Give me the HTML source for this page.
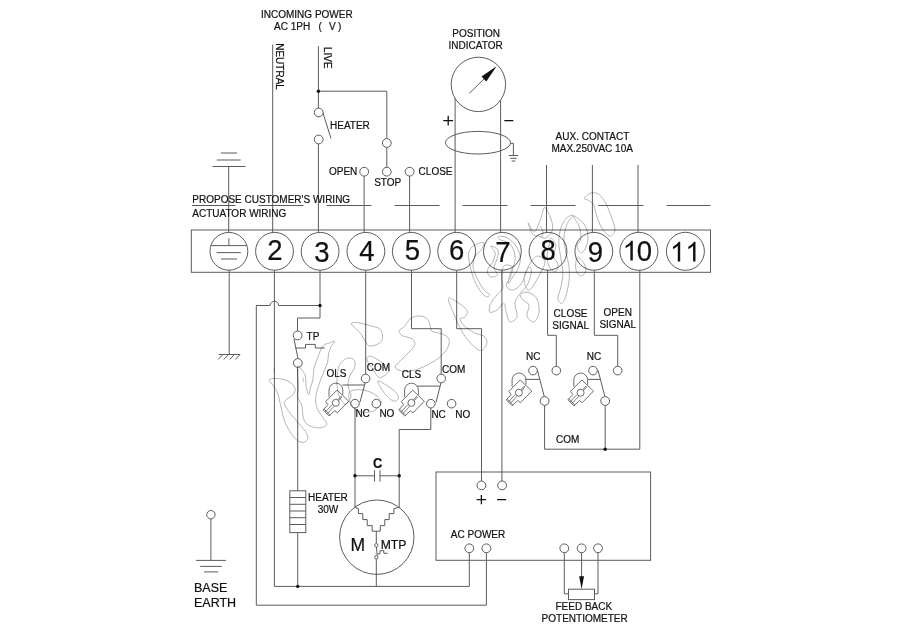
<!DOCTYPE html>
<html>
<head>
<meta charset="utf-8">
<title>Actuator Wiring Diagram</title>
<style>
html,body{margin:0;padding:0;background:#fff;}
body{width:900px;height:636px;overflow:hidden;font-family:"Liberation Sans",sans-serif;}
svg{display:block;will-change:transform;}
svg text{font-family:"Liberation Sans",sans-serif;fill:#111;stroke:#111;stroke-width:0.2px;}
.w{fill:none;stroke:#5c5c5c;stroke-width:1;}
.c{fill:#fff;stroke:#5c5c5c;stroke-width:1;}
.d{fill:#111;stroke:none;}
.t{font-size:10px;}
.n{font-size:27.5px;text-anchor:middle;}
</style>
</head>
<body>
<svg width="900" height="636" viewBox="0 0 900 636">
<rect x="0" y="0" width="900" height="636" fill="#fff"/>

<!-- WATERMARK -->


<!-- dashed customer / actuator boundary -->
<g class="w">
<path d="M192,205.5H235.5M258.5,205.5H303.5M326.5,205.5H371.5M394.5,205.5H439.5M462.5,205.5H507.5M530.5,205.5H575.5M598.5,205.5H643.5M666.5,205.5H710.5"/>
</g>

<!-- terminal strip -->
<g class="w">
<rect x="191.3" y="230" width="519.2" height="42.3"/>
<circle cx="228.9" cy="251.3" r="18.9"/>
<circle cx="274.5" cy="251.3" r="18.9"/>
<circle cx="320.1" cy="251.3" r="18.9"/>
<circle cx="365.9" cy="251.3" r="18.9"/>
<circle cx="411.3" cy="251.3" r="18.9"/>
<circle cx="456.7" cy="251.3" r="18.9"/>
<circle cx="502.4" cy="251.3" r="18.9"/>
<circle cx="548" cy="251.3" r="18.9"/>
<circle cx="593.8" cy="251.3" r="18.9"/>
<circle cx="638.9" cy="251.3" r="19"/>
<circle cx="685.4" cy="251.3" r="19"/>
<!-- earth inside terminal 1 -->
<path d="M228.9,238.4V245.6M210.9,245.6H246.9M216.6,252.6H240.8M221,259H237"/>
</g>
<g class="n">
<text transform="translate(275,259.7) scale(1,1.045)">2</text>
<text transform="translate(322,261.5) scale(1,1.045)">3</text>
<text transform="translate(366.9,261) scale(1,1.045)">4</text>
<text transform="translate(412.5,259.8) scale(1,1.045)">5</text>
<text transform="translate(456.6,260.4) scale(1,1.045)">6</text>
<text transform="translate(502.9,261.7) scale(1,1.045)">7</text>
<text transform="translate(548.1,260.2) scale(1,1.045)">8</text>
<text transform="translate(595.3,262) scale(1,1.045)">9</text>
<path transform="translate(622.55,260.6) scale(0.013428,-0.013428)" d="M763 0H583V1147Q518 1085 412.5 1023Q307 961 223 930V1104Q374 1175 487 1276Q600 1377 647 1472H763Z" fill="#111"/>
<text transform="translate(644.5,260.6) scale(1,1.045)">0</text>
<path transform="translate(669.95,261.5) scale(0.013428,-0.013428)" d="M763 0H583V1147Q518 1085 412.5 1023Q307 961 223 930V1104Q374 1175 487 1276Q600 1377 647 1472H763Z" fill="#111"/>
<path transform="translate(685.25,261.5) scale(0.013428,-0.013428)" d="M763 0H583V1147Q518 1085 412.5 1023Q307 961 223 930V1104Q374 1175 487 1276Q600 1377 647 1472H763Z" fill="#111"/>
</g>

<!-- TOP: customer wiring -->
<g class="w">
<!-- earth symbol top -->
<path d="M221,153H237M216.7,160H240.7M212.5,166.5H245.5M228.7,166.5V232.4"/>
<!-- neutral -->
<path d="M272.7,44.5V232.4"/>
<!-- live -->
<path d="M318.4,46V108"/>
<path d="M318.4,91.2H386.8V138.5"/>
<path d="M322.5,111.5L331,138.5"/>
<path d="M318.4,144V232.4"/>
<path d="M386.8,147.5V167.3"/>
<!-- open / close -->
<path d="M364.1,176.2V232.4"/>
<path d="M409.6,176.2V232.4"/>
<!-- position indicator -->
<path d="M455.1,98V232.4M500.6,98V232.4"/>
<ellipse cx="478" cy="142.7" rx="32.5" ry="11.3"/>
<path d="M510.5,143.3H513.4V155.5M508.7,155.5H518.2M510.2,158.3H516.8M511.6,161H515.4"/>
<!-- aux contact -->
<path d="M546.5,165V232.4M592.4,165V232.4M638,165V232.4"/>
</g>
<circle class="d" cx="318.4" cy="91.2" r="1.7"/>
<g class="c">
<circle cx="318.7" cy="112.5" r="4.4"/>
<circle cx="318.7" cy="139.5" r="4.4"/>
<circle cx="386.8" cy="143" r="4.4"/>
<circle cx="386.8" cy="171.7" r="4.4"/>
<circle cx="364.2" cy="171.7" r="4.4"/>
<circle cx="409.6" cy="171.7" r="4.4"/>
<circle cx="478.4" cy="84.4" r="27.2"/>
</g>
<path class="w" d="M469.3,93.3L486,77"/>
<path class="d" d="M496.6,66.3L481.5,76.6L486.3,81.4Z"/>
<path d="M443.3,120.7H453.1M448.2,115.8V125.6M504.3,120.7H513.3" fill="none" stroke="#111" stroke-width="1.3"/>

<g class="t">
<text x="261" y="17.6">INCOMING POWER</text>
<text x="274" y="30.2">AC 1PH</text>
<text x="318.6" y="30">(</text>
<text x="329" y="30.2">V</text>
<text x="338" y="30">)</text>
<text transform="translate(276.4,43.2) rotate(90)">NEUTRAL</text>
<text transform="translate(324,47) rotate(90)">LIVE</text>
<text x="330" y="128.8">HEATER</text>
<text x="329" y="174.6">OPEN</text>
<text x="374.2" y="186.3">STOP</text>
<text x="418.6" y="175">CLOSE</text>
<text x="192.3" y="202.5">PROPOSE CUSTOMER'S WIRING</text>
<text x="192.3" y="217">ACTUATOR WIRING</text>
<text x="452.3" y="37.1">POSITION</text>
<text x="448.6" y="49.1">INDICATOR</text>
<text x="555.6" y="140">AUX. CONTACT</text>
<text x="551.4" y="151.8">MAX.250VAC 10A</text>
</g>

<!-- BOTTOM: actuator wiring -->
<g class="w">
<!-- earth chassis -->
<path d="M229.2,270.2V354.5M218.7,354.5H240M222.8,354.5L218.1,359.5M228.6,354.5L223.9,359.5M234.4,354.5L229.7,359.5M240,354.5L235.3,359.5"/>
<!-- wire 2 neutral -->
<path d="M274.4,270.2V586.4H469.3V552.7"/>
<!-- wire 3 live -->
<path d="M320,270.2V318H297.5V331"/>
<path d="M320,305.5H278.7A4.3,4.3 0 0 0 270.1,305.5H256.3V605.2H486.4V552.7"/>
<!-- TP switch -->
<path d="M294,339L298,358.6"/>
<path d="M295.5,348H305.5V344.4H315.3V348H324.8"/>
<path d="M274.4,367.3V373.3"/>
<path d="M297.7,367.4V490.8M297.7,532.6V586.4"/>
<rect x="289.8" y="490.8" width="16" height="41.8"/>
<path d="M289.8,497.5H305.8M289.8,504.3H305.8M289.8,511H305.8M289.8,517.7H305.8M289.8,524.5H305.8"/>
<!-- wire 4 -->
<path d="M365.7,270.2V374.2"/>
<!-- OLS -->
<path d="M342.4,385H364.6M365.2,382.8L360,402"/>
<path d="M355,407.9V508M355,475.8H374.5M380,475.8H399.2M374.5,470.2V481.6M380,470.2V481.6"/>
<!-- wire 5 -->
<path d="M411.5,270.2V328.7H441.2V374.2"/>
<!-- CLS -->
<path d="M417.3,386.1H440.3M441,382.8L436,402.3"/>
<path d="M430.8,408V429.5H399.2V508"/>
<!-- wire 6, 7 -->
<path d="M456.7,270.2V328.7H481.5V481M501.9,270.2V481"/>
<!-- wire 8 -->
<path d="M547.6,270.2V335.3H556.3V366.3"/>
<!-- wire 9 -->
<path d="M594.3,270.2V335.3H617.7V366.3"/>
<!-- wire 10 and COM -->
<path d="M639.8,270.2V449.2H544.6V405.4M605.2,405.4V449.2"/>
<!-- aux switches -->
<path d="M525.7,379.4H539.6M537.4,370.2L544.3,396.6"/>
<path d="M587.8,379.4H600.2M598,370.2L604.9,396.6"/>
<!-- motor -->
<circle cx="376.8" cy="537.2" r="37.2"/>
<path d="M354.8,507.3L358.4,508.6V513.6H362.8V519.6H367.2V525.6H372.2V531.2H380.3V525.6H384.8V519.6H389.2V513.6H393.9V508.6L399,507.3"/>
<path d="M376.3,531.2V543.6M376.4,547L377.2,555.6M376.3,559V586.4"/>
<path d="M377.2,553.9H380V550.7H383.8V553.3H387.6"/>
<!-- control box -->
<rect x="436" y="472" width="214.6" height="88.3"/>
<!-- potentiometer -->
<path d="M564.3,552.7V593.8H568.5M598,552.7V593.8H594.5M581.6,552.7V580"/>
<rect x="568.5" y="589.2" width="26" height="10.4"/>
<!-- base earth -->
<path d="M210.9,519V560.4M196,560.4H226M200.2,566.4H221.9M204,571.9H218.1"/>
</g>
<path class="d" d="M581.6,589.2L579.2,576.3H584Z"/>
<g class="d">
<circle cx="320" cy="305.5" r="1.7"/>
<circle cx="355" cy="475.8" r="1.7"/>
<circle cx="399.2" cy="475.8" r="1.7"/>
<circle cx="605.2" cy="449.2" r="1.7"/>
<circle cx="297.7" cy="586.4" r="1.7"/>
</g>
<g class="c">
<circle cx="297.6" cy="335.4" r="4.4"/>
<circle cx="297.8" cy="363" r="4.4"/>
<circle cx="365.6" cy="378.5" r="4.3"/>
<circle cx="355" cy="403.6" r="4.3"/>
<circle cx="376.3" cy="403.6" r="4.3"/>
<circle cx="441.2" cy="378.5" r="4.3"/>
<circle cx="430.8" cy="403.7" r="4.3"/>
<circle cx="451.6" cy="403.7" r="4.3"/>
<circle cx="533" cy="370.6" r="4.3"/>
<circle cx="556.3" cy="370.6" r="4.3"/>
<circle cx="544.6" cy="401" r="4.4"/>
<circle cx="593" cy="370.6" r="4.3"/>
<circle cx="617.7" cy="370.6" r="4.3"/>
<circle cx="605.2" cy="401" r="4.4"/>
<circle cx="481.4" cy="485.4" r="4.4"/>
<circle cx="502.1" cy="485.4" r="4.4"/>
<circle cx="469.3" cy="548.3" r="4.4"/>
<circle cx="486.4" cy="548.3" r="4.4"/>
<circle cx="564.3" cy="548.3" r="4.4"/>
<circle cx="581.6" cy="548.3" r="4.4"/>
<circle cx="598" cy="548.3" r="4.4"/>
<circle cx="210.9" cy="514.7" r="4.2"/>
<circle cx="376.3" cy="545.3" r="1.7"/>
<circle cx="376.3" cy="557.3" r="1.7"/>
</g>
<path d="M476.7,499.6H486.1M481.4,494.9V504.3M497,499.6H506.2" fill="none" stroke="#111" stroke-width="1.3"/>

<!-- cam icons -->
<defs>
<g id="cam">
<path d="M-8.2,-4.6V-11.4A6.9,6.9 0 0 1 5.6,-11.4V-6.6" fill="none"/>
<path d="M-0.1,-11.3L11.5,-0.2L0.2,11.4L-2.6,9.2L-8,14.6L-14.1,8.5L-9.2,3.2L-11.5,0.1Z" fill="#fff" stroke-linejoin="round"/>
<path d="M-3.1,4.9L-10.2,12.4M-4.9,3.1L-12,10.6M-7,13.7L-13.2,7.6" fill="none" stroke-width="0.8"/>
<path d="M1.5,-0.7L4.6,-4.3M0.7,-1.5L3.8,-5.1M3.8,-5.1L4.6,-4.3" fill="none" stroke-width="0.8"/>
<circle cx="-1.4" cy="1.4" r="3.5" fill="#fff"/>
</g>
</defs>
<g stroke="#5c5c5c" stroke-width="0.9">
<use href="#cam" x="337.2" y="401.4"/>
<use href="#cam" x="412.8" y="401.5"/>
<use href="#cam" x="520.3" y="391.3"/>
<use href="#cam" x="582" y="391.3"/>
</g>

<g class="t">
<text x="306.6" y="339.5">TP</text>
<text x="326.5" y="377">OLS</text>
<text x="366.8" y="370.8">COM</text>
<text x="355.4" y="417.4">NC</text>
<text x="379.4" y="417">NO</text>
<text x="401.8" y="377.5">CLS</text>
<text x="442" y="372.5">COM</text>
<text x="431.4" y="418.2">NC</text>
<text x="455.2" y="418.2">NO</text>
<text x="553.6" y="317">CLOSE</text>
<text x="552.3" y="328.7">SIGNAL</text>
<text x="603.6" y="316.2">OPEN</text>
<text x="599.4" y="328">SIGNAL</text>
<text x="526" y="359.5">NC</text>
<text x="586.8" y="359.5">NC</text>
<text x="556" y="443">COM</text>
<text x="308" y="501.1">HEATER</text>
<text x="317.7" y="513.1">30W</text>
<text x="450.8" y="537.6">AC POWER</text>
<text x="555.5" y="609.8">FEED BACK</text>
<text x="541.6" y="621.8">POTENTIOMETER</text>
</g>
<text transform="translate(373,467.8) scale(0.98,1.17)" style="font-size:13px;font-weight:bold;">C</text>
<text x="350.4" y="550.7" style="font-size:17.5px;">M</text>
<text x="380.7" y="548.5" style="font-size:12.2px;">MTP</text>
<text x="194" y="591.5" style="font-size:12.5px;">BASE</text>
<text x="194" y="606.6" style="font-size:12.5px;">EARTH</text>
<g id="wm" style="mix-blend-mode:multiply" fill="none" stroke="#b4b4b4" stroke-width="1">
<path d="M268.9,380.1C269.5,379.1 272.6,378.2 275.8,378.4C279.0,378.5 284.8,379.4 288.0,381.0C291.2,382.6 294.0,385.6 294.9,387.9C295.8,390.2 294.8,392.5 293.1,394.8C291.4,397.1 285.4,399.1 284.5,401.7C283.6,404.3 286.0,407.2 288.0,410.4C290.0,413.6 293.7,417.3 296.6,420.8C299.5,424.3 303.4,428.3 305.3,431.2C307.2,434.1 308.1,436.2 307.8,438.1C307.5,440.0 305.4,442.1 303.5,442.4C301.6,442.7 298.9,441.7 296.6,439.8C294.3,437.9 291.7,434.4 289.7,431.2C287.7,428.0 285.9,424.9 284.5,420.8C283.1,416.8 282.1,411.5 281.0,406.9C279.9,402.3 279.0,396.9 277.6,393.1C276.2,389.4 273.8,386.6 272.4,384.4C270.9,382.2 268.3,381.1 268.9,380.1Z"/>
<path d="M334.7,341.2C334.4,340.6 331.5,342.0 329.5,342.9C327.5,343.8 324.6,343.8 322.6,346.4C320.6,349.0 318.8,354.8 317.4,358.5C315.9,362.2 314.6,365.4 313.9,368.9C313.2,372.4 313.6,376.1 313.0,379.3C312.4,382.5 311.1,385.3 310.4,387.9C309.7,390.5 309.4,395.1 308.7,394.8C308.0,394.5 306.7,389.4 306.1,386.2C305.5,383.0 306.2,378.7 305.3,375.8C304.4,372.9 302.2,370.3 300.9,368.9C299.6,367.4 297.9,363.9 297.5,367.1C297.1,370.3 298.3,383.0 298.3,387.9C298.3,392.8 296.9,393.7 297.5,396.6C298.1,399.5 300.9,402.3 301.8,405.2C302.7,408.1 302.1,411.0 302.7,413.9C303.3,416.8 303.7,420.4 305.3,422.5C306.9,424.6 309.6,425.9 312.2,426.8C314.8,427.7 318.4,428.1 320.8,427.7C323.2,427.3 326.6,425.9 326.9,424.2C327.2,422.5 324.2,419.9 322.6,417.3C321.0,414.7 318.6,411.6 317.4,408.7C316.2,405.8 315.6,403.2 315.6,400.0C315.6,396.8 316.5,393.1 317.4,389.6C318.3,386.2 319.6,382.5 320.8,379.3C322.0,376.1 323.2,373.5 324.3,370.6C325.4,367.7 327.0,364.8 327.7,361.9C328.4,359.0 328.0,355.9 328.6,353.3C329.2,350.7 330.2,348.4 331.2,346.4C332.2,344.4 335.0,341.8 334.7,341.2Z"/>
<path d="M303.0,377.5C303.1,378.2 303.4,381.1 303.5,381.8"/>
<path d="M341.8,361.9C343.4,360.4 346.0,358.3 348.1,358.0C350.2,357.7 353.3,358.6 354.4,360.3C355.4,362.0 355.2,365.6 354.4,368.2C353.6,370.8 350.8,373.1 349.7,376.1C348.6,379.1 347.9,382.7 348.1,386.0C348.3,389.3 351.4,393.0 351.0,396.0C350.6,399.0 347.8,403.7 346.0,404.0C344.2,404.3 341.5,401.0 340.0,398.0C338.5,395.0 337.5,390.0 337.1,386.0C336.7,382.0 337.2,377.2 337.5,374.0C337.8,370.8 338.0,369.0 338.7,367.0C339.4,365.0 340.2,363.4 341.8,361.9Z"/>
<path d="M349.7,392.0C351.5,389.9 356.8,389.4 360.7,389.7C364.6,390.0 369.9,391.6 373.3,393.6C376.7,395.6 380.6,398.9 381.1,401.5C381.6,404.1 378.8,407.5 376.4,409.3C374.0,411.1 370.4,412.4 367.0,412.5C363.6,412.6 358.8,411.8 356.0,410.0C353.2,408.2 351.1,405.0 350.0,402.0C348.9,399.0 347.9,394.1 349.7,392.0Z"/>
<path d="M351.2,323.4C351.7,322.6 354.4,322.2 357.5,322.6C360.6,323.0 366.4,324.6 370.1,325.7C373.8,326.8 377.5,327.1 379.6,328.9C381.7,330.7 382.7,334.3 382.7,336.7C382.7,339.1 381.7,341.4 379.6,343.0C377.5,344.6 372.5,346.4 370.1,346.2C367.7,345.9 367.0,343.6 365.4,341.5C363.8,339.4 362.5,336.0 360.7,333.6C358.9,331.2 356.0,329.0 354.4,327.3C352.8,325.6 350.7,324.2 351.2,323.4Z"/>
<path d="M368.5,356.4C369.6,355.9 370.4,355.8 373.3,357.2C376.2,358.6 383.2,362.8 385.8,365.1C388.4,367.5 390.0,369.2 389.0,371.3C388.0,373.4 382.2,377.9 379.6,377.6C377.0,377.4 375.4,372.7 373.3,369.8C371.2,366.9 367.8,362.5 367.0,360.3C366.2,358.1 367.4,356.9 368.5,356.4Z"/>
<path d="M378.0,380.8C378.8,380.5 381.4,382.1 384.3,383.9C387.2,385.7 393.0,389.4 395.3,391.8C397.6,394.2 398.7,396.5 398.4,398.1C398.1,399.7 395.8,401.7 393.7,401.2C391.6,400.7 388.2,397.5 385.8,394.9C383.4,392.3 380.8,387.9 379.5,385.5C378.2,383.1 377.2,381.1 378.0,380.8Z"/>
<path d="M398.9,331.1C399.2,329.5 402.6,328.4 404.5,326.4C406.4,324.4 408.0,320.6 410.2,318.9C412.4,317.2 415.0,316.2 417.7,316.0C420.4,315.8 424.1,316.5 426.2,317.9C428.2,319.3 429.1,322.3 430.0,324.5C430.9,326.7 429.8,329.5 431.9,331.1C433.9,332.7 439.5,332.7 442.3,334.0C445.1,335.3 448.0,336.5 448.9,338.7C449.8,340.9 449.3,344.2 447.9,347.2C446.5,350.2 443.8,353.6 440.4,356.6C436.9,359.6 431.9,362.7 427.2,365.1C422.5,367.5 416.5,369.9 412.1,370.8C407.7,371.8 403.6,371.4 400.8,370.8C398.0,370.2 395.1,368.7 395.1,367.0C395.1,365.3 398.3,363.1 400.8,360.4C403.3,357.7 407.9,353.6 410.2,350.9C412.5,348.2 414.6,346.3 414.9,344.3C415.2,342.3 414.2,340.1 412.1,338.7C410.1,337.3 404.8,337.1 402.6,335.8C400.4,334.5 398.6,332.7 398.9,331.1Z"/>
<path d="M448.4,299.9C448.1,297.4 449.6,297.8 452.4,299.1C455.1,300.4 462.4,305.6 464.9,307.8C467.4,310.0 467.3,310.9 467.3,312.5C467.3,314.1 466.1,316.1 464.9,317.2C463.7,318.2 460.4,317.5 460.2,318.8C459.9,320.1 461.0,322.8 463.4,325.1C465.8,327.5 471.0,331.1 474.4,332.9C477.8,334.7 481.7,334.5 483.8,336.1C485.9,337.7 487.0,340.3 487.0,342.4C487.0,344.5 485.1,347.4 483.8,348.7C482.5,350.0 481.2,351.0 479.1,350.2C477.0,349.4 473.6,346.2 471.2,343.9C468.8,341.5 467.0,339.2 464.9,336.1C462.8,333.0 460.5,328.8 458.7,325.1C456.9,321.4 455.6,318.2 453.9,314.0C452.2,309.8 448.6,302.4 448.4,299.9Z"/>
<path d="M468.6,257.1C468.2,252.3 469.3,250.5 470.8,248.3C472.3,246.1 475.2,244.8 477.4,243.9C479.6,243.0 483.6,241.7 484.1,242.8C484.7,243.9 482.2,248.3 480.7,250.5C479.2,252.7 476.5,253.4 475.2,256.0C473.9,258.6 472.8,262.4 473.0,265.9C473.2,269.4 474.4,272.9 476.3,276.9C478.2,280.9 481.9,287.2 484.1,290.1C486.3,293.0 489.2,293.4 489.6,294.5C490.0,295.6 488.0,297.4 486.3,296.7C484.6,296.0 481.8,293.4 479.6,290.1C477.4,286.8 474.8,282.4 473.0,276.9C471.2,271.4 469.0,261.9 468.6,257.1Z"/>
<path d="M499.5,236.2C501.0,236.0 505.6,236.8 508.3,238.4C511.1,240.1 514.0,243.0 516.0,246.1C518.0,249.2 520.0,253.4 520.4,257.1C520.8,260.8 519.5,264.8 518.2,268.1C516.9,271.4 514.4,274.3 512.7,276.9C511.1,279.5 508.7,284.2 508.3,283.5C507.9,282.8 509.4,276.2 510.5,272.5C511.6,268.8 514.4,265.2 514.9,261.5C515.4,257.8 514.9,253.6 513.8,250.5C512.7,247.4 510.7,244.6 508.3,242.8C505.9,241.0 501.0,240.6 499.5,239.5C498.0,238.4 498.0,236.4 499.5,236.2Z"/>
<path d="M490.7,246.1C490.2,246.5 494.7,250.1 495.1,252.7C495.5,255.3 494.2,258.6 492.9,261.5C491.6,264.4 487.8,267.7 487.4,270.3C487.0,272.9 489.0,276.2 490.7,276.9C492.4,277.6 496.8,276.2 497.3,274.7C497.9,273.2 494.1,270.6 494.0,268.0C493.9,265.4 496.3,262.0 497.0,259.0C497.7,256.0 499.1,252.2 498.0,250.0C496.9,247.8 491.2,245.7 490.7,246.1Z"/>
<path d="M503.9,265.9C505.7,264.2 511.6,265.2 512.7,267.0C513.8,268.8 511.6,273.8 510.5,276.9C509.4,280.0 505.7,283.5 506.1,285.7C506.5,287.9 510.1,290.5 512.7,290.1C515.3,289.7 518.9,287.2 521.5,283.5C524.1,279.8 526.5,270.3 528.1,268.1C529.8,265.9 531.4,267.7 531.4,270.3C531.4,272.9 530.1,279.5 528.1,283.5C526.1,287.5 521.5,291.2 519.3,294.5C517.1,297.8 515.3,299.6 514.9,303.3C514.5,307.0 517.9,313.4 517.1,316.5C516.3,319.6 511.8,322.7 510.0,322.0C508.2,321.3 507.1,315.2 506.1,312.1C505.1,309.0 505.4,303.7 503.9,303.3C502.4,302.9 499.7,308.4 497.3,309.9C494.9,311.4 490.7,313.2 489.6,312.1C488.5,311.0 489.4,306.2 490.7,303.3C492.0,300.4 495.3,297.1 497.3,294.5C499.3,291.9 502.1,290.8 502.8,287.9C503.5,285.0 501.5,280.6 501.7,276.9C501.9,273.2 502.1,267.5 503.9,265.9Z"/>
<path d="M520.4,294.5C521.2,293.2 525.4,291.6 528.1,292.3C530.9,293.0 535.1,295.6 536.9,298.9C538.7,302.2 539.6,308.2 539.1,312.1C538.6,316.0 536.0,321.4 534.0,322.0C532.0,322.6 527.8,318.8 527.0,316.0C526.2,313.2 529.7,307.7 529.0,305.0C528.3,302.3 524.4,301.8 523.0,300.0C521.6,298.2 519.5,295.8 520.4,294.5Z"/>
<path d="M524.0,278.0C524.5,273.3 528.7,265.7 531.0,262.0C533.3,258.3 535.7,256.0 538.0,256.0C540.3,256.0 544.7,259.0 545.0,262.0C545.3,265.0 542.0,270.0 540.0,274.0C538.0,278.0 535.0,283.3 533.0,286.0C531.0,288.7 529.5,291.3 528.0,290.0C526.5,288.7 523.5,282.7 524.0,278.0Z"/>
<path d="M528.2,222.8C528.5,222.5 532.3,232.5 534.3,232.0C536.3,231.5 538.7,223.8 540.4,219.7C542.1,215.6 543.0,208.2 544.5,207.5C546.0,206.8 548.2,212.5 549.6,215.6C551.0,218.7 552.5,222.8 552.7,225.9C552.9,229.0 552.0,232.0 550.6,234.0C549.2,236.0 546.5,237.8 544.5,238.1C542.5,238.4 540.4,236.8 538.4,236.1C536.4,235.4 534.0,236.2 532.3,234.0C530.6,231.8 527.9,223.1 528.2,222.8Z"/>
<path d="M584.4,198.3C584.8,197.1 588.1,193.9 590.5,193.2C592.9,192.5 596.2,192.5 598.7,194.2C601.2,195.9 603.8,199.8 605.8,203.4C607.8,207.0 609.4,211.2 610.9,215.6C612.4,220.0 615.2,226.5 615.0,229.9C614.8,233.3 612.1,236.4 609.9,236.1C607.7,235.8 603.9,231.3 601.7,227.9C599.5,224.5 598.0,219.5 596.6,215.6C595.2,211.7 594.9,206.9 593.5,204.4C592.1,201.9 589.9,201.3 588.4,200.3C586.9,199.3 584.0,199.5 584.4,198.3Z"/>
<path d="M573.1,215.6C573.1,216.6 568.5,220.1 567.0,223.8C565.5,227.6 564.1,233.3 563.9,238.1C563.7,242.9 565.1,247.6 566.0,252.4C566.9,257.2 568.5,261.9 569.0,266.7C569.5,271.5 569.5,276.2 569.0,281.0C568.5,285.8 567.2,291.6 566.0,295.3C564.8,299.1 563.3,303.0 561.9,303.5C560.5,304.0 558.0,301.1 557.8,298.4C557.6,295.7 560.0,291.4 560.9,287.1C561.8,282.8 562.9,277.6 562.9,272.8C562.9,268.0 561.6,263.6 560.9,258.5C560.2,253.4 558.8,247.3 558.8,242.2C558.8,237.1 559.5,232.0 560.9,227.9C562.3,223.8 565.0,219.8 567.0,217.7C569.0,215.6 573.1,214.6 573.1,215.6Z"/>
<path d="M573.1,215.6C572.3,215.9 577.7,222.3 579.0,226.0C580.3,229.7 581.3,234.7 581.0,238.0C580.7,241.3 577.0,243.5 577.0,246.0C577.0,248.5 579.5,252.8 581.0,253.0C582.5,253.2 584.8,249.8 586.0,247.0C587.2,244.2 588.3,239.8 588.0,236.0C587.7,232.2 586.5,227.4 584.0,224.0C581.5,220.6 573.9,215.3 573.1,215.6Z"/>
<path d="M551.0,238.0C552.2,238.0 555.7,243.0 556.0,246.0C556.3,249.0 552.7,253.0 553.0,256.0C553.3,259.0 557.7,261.3 558.0,264.0C558.3,266.7 556.5,271.7 555.0,272.0C553.5,272.3 550.3,268.7 549.0,266.0C547.7,263.3 547.0,259.3 547.0,256.0C547.0,252.7 548.3,249.0 549.0,246.0C549.7,243.0 549.8,238.0 551.0,238.0Z"/>
<path d="M540.0,226.0C540.5,227.0 542.8,230.0 543.0,232.0C543.2,234.0 541.3,237.0 541.0,238.0"/>
<path d="M577.0,258.0C578.2,256.7 581.5,260.0 583.0,262.0C584.5,264.0 586.3,267.7 586.0,270.0C585.7,272.3 582.7,276.0 581.0,276.0C579.3,276.0 576.7,273.0 576.0,270.0C575.3,267.0 575.8,259.3 577.0,258.0Z"/>
</g>
</svg>
</body>
</html>
